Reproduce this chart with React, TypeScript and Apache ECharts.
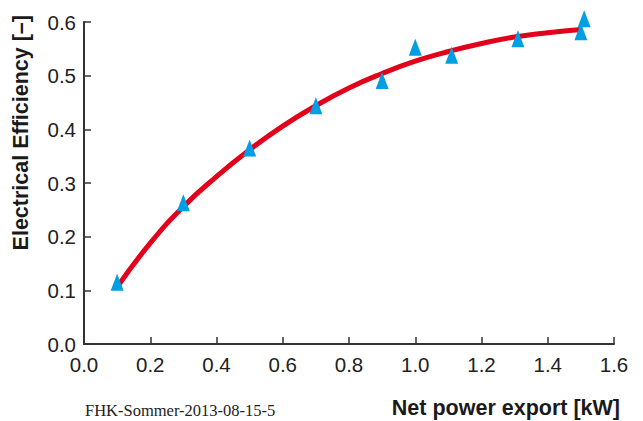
import React, { useEffect, useRef } from "react";
import * as echarts from "echarts";

const fitX = [0.1, 0.2, 0.3, 0.4, 0.5, 0.6, 0.7, 0.8, 0.9, 1.0, 1.1, 1.2, 1.3, 1.4, 1.5];
const fitY = [0.106, 0.188, 0.256, 0.312, 0.362, 0.406, 0.444, 0.477, 0.504, 0.527, 0.545, 0.56, 0.572, 0.58, 0.586];

const measX = [0.1, 0.3, 0.5, 0.7, 0.9, 1.0, 1.11, 1.31, 1.5, 1.51];
const measY = [0.115, 0.263, 0.365, 0.444, 0.491, 0.553, 0.538, 0.569, 0.582, 0.606];

const yAxisTitle = "Electrical Efficiency [–]";
const xAxisTitle = "Net power export [kW]";
const footnote = "FHK-Sommer-2013-08-15-5";

export default function App() {
  const ref = useRef<HTMLDivElement>(null);
  useEffect(() => {
    if (!ref.current) return;
    const chart = echarts.init(ref.current, undefined, { renderer: "svg" });
    const axisColor = "#333333";
    const labelStyle = {
      color: "#222222",
      fontSize: 20.5,
      fontFamily: "Liberation Sans, Arial, sans-serif",
      formatter: (v: number) => v.toFixed(1),
    };
    chart.setOption({
      animation: false,
      backgroundColor: "#ffffff",
      grid: { left: 84, right: 29, top: 22, bottom: 77 },
      xAxis: {
        type: "value",
        min: 0,
        max: 1.6,
        interval: 0.2,
        splitLine: { show: false },
        axisLine: { show: true, lineStyle: { color: axisColor, width: 2 } },
        axisTick: { show: true, inside: true, length: 7, lineStyle: { color: axisColor, width: 1.5 } },
        axisLabel: { ...labelStyle, margin: 10 },
      },
      yAxis: {
        type: "value",
        min: 0,
        max: 0.6,
        interval: 0.1,
        splitLine: { show: false },
        axisLine: { show: true, lineStyle: { color: axisColor, width: 2 } },
        axisTick: { show: true, inside: true, length: 7, lineStyle: { color: axisColor, width: 1.5 } },
        axisLabel: { ...labelStyle, margin: 8 },
      },
      series: [
        {
          type: "line",
          data: fitX.map((x, i) => [x, fitY[i]]),
          smooth: true,
          showSymbol: false,
          lineStyle: { color: "#e2001a", width: 5, cap: "butt" },
          z: 2,
        },
        {
          type: "scatter",
          data: measX.map((x, i) => [x, measY[i]]),
          symbol: "triangle",
          symbolSize: [13, 17],
          itemStyle: { color: "#009fe3", opacity: 1 },
          clip: false,
          z: 3,
        },
      ],
      graphic: [
        {
          type: "text",
          x: 20.5,
          y: 15,
          rotation: Math.PI / 2,
          style: {
            text: yAxisTitle,
            fontSize: 21.5,
            fontWeight: "bold",
            fontFamily: "Liberation Sans, Arial, sans-serif",
            fill: "#1a1a1a",
            textAlign: "right",
            textVerticalAlign: "middle",
          },
        },
        {
          type: "text",
          x: 620,
          y: 408,
          style: {
            text: xAxisTitle,
            fontSize: 21.5,
            fontWeight: "bold",
            fontFamily: "Liberation Sans, Arial, sans-serif",
            fill: "#1a1a1a",
            textAlign: "right",
            textVerticalAlign: "middle",
          },
        },
        {
          type: "text",
          x: 85,
          y: 410,
          style: {
            text: footnote,
            fontSize: 16.5,
            fontFamily: "Liberation Serif, Times New Roman, serif",
            fill: "#222222",
            textAlign: "left",
            textVerticalAlign: "middle",
          },
        },
      ],
    });
    return () => chart.dispose();
  }, []);
  return (
    <div
      ref={ref}
      style={{ position: "fixed", left: 0, top: 0, width: 643, height: 421 }}
    />
  );
}
